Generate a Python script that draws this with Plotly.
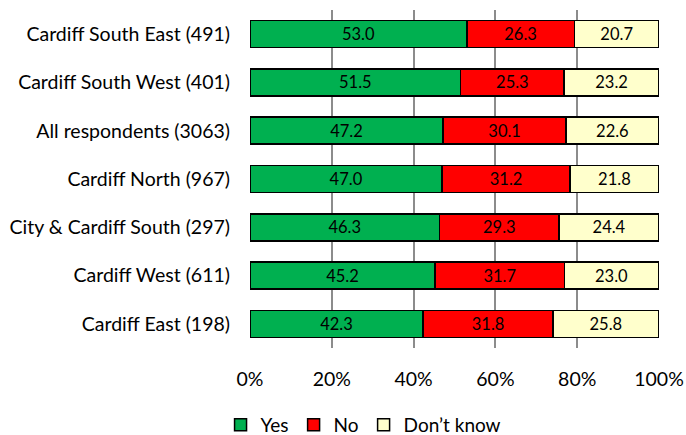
import plotly.graph_objects as go

categories = ["Cardiff South East (491)", "Cardiff South West (401)", "All respondents (3063)",
              "Cardiff North (967)", "City & Cardiff South (297)", "Cardiff West (611)", "Cardiff East (198)"]
yes = [53.0, 51.5, 47.2, 47.0, 46.3, 45.2, 42.3]
no = [26.3, 25.3, 30.1, 31.2, 29.3, 31.7, 31.8]
dont_know = [20.7, 23.2, 22.6, 21.8, 24.4, 23.0, 25.8]
series = [("Yes", yes, "#00B050"), ("No", no, "#FF0000"), ("Don\u2019t know", dont_know, "#FFFFCC")]

FONT = "Lato, Carlito, Calibri, sans-serif"
fig = go.Figure()
for name, vals, col in series:
    fig.add_trace(go.Bar(
        y=categories, x=vals, name=name, orientation="h",
        marker=dict(color=col, line=dict(color="black", width=1.5)),
        text=[f"{v:.1f}" for v in vals], textposition="inside",
        insidetextanchor="middle", textangle=0, constraintext="none",
        textfont=dict(color="black", size=16.5, family=FONT),
    ))

fig.update_layout(
    barmode="stack", bargap=0.44,
    width=686, height=435,
    margin=dict(l=250, r=27, t=10, b=87),
    plot_bgcolor="white", paper_bgcolor="white",
    font=dict(family=FONT, size=19.5, color="black"),
    showlegend=True,
    legend=dict(orientation="h", x=-0.072, xanchor="left",
                yref="container", y=0.023, yanchor="middle",
                font=dict(size=19), traceorder="normal", itemwidth=30),
    xaxis=dict(range=[0, 100], tickvals=[0, 20, 40, 60, 80, 100],
               ticktext=["0%", "20%", "40%", "60%", "80%", "100%"],
               showgrid=True, gridcolor="#8c8c8c", gridwidth=1.5, automargin=False,
               zeroline=False, showline=False, ticks="", ticklabelstandoff=17),
    yaxis=dict(autorange="reversed", showgrid=False, ticks="", ticklabelstandoff=19,
               showline=False, automargin=False),
)
fig.write_html("out.html", post_script="document.body.style.margin='0';",
               config={"displayModeBar": False})
